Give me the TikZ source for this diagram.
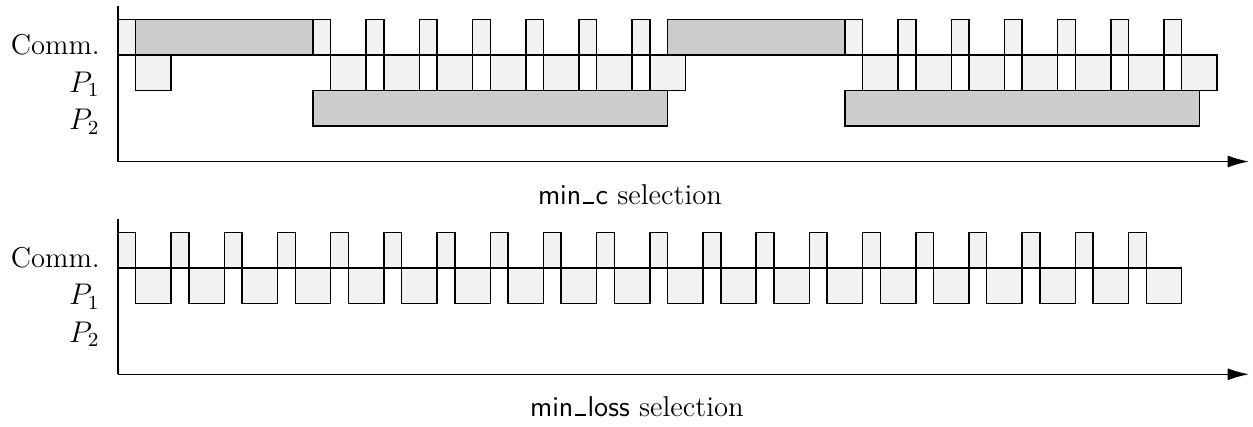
\documentclass[tikz,border=0pt]{standalone}
\usetikzlibrary{arrows.meta}
\begin{document}
\begin{tikzpicture}[x=0.25cm,y=0.25cm,
  font=\fontsize{11.5}{13.8}\selectfont,
  lightbox/.style={draw=black,fill=black!5,line width=0.6pt},
  darkbox/.style={draw=black,fill=black!20,line width=0.6pt},
  axisline/.style={draw=black,line width=0.6pt},
  rowlabel/.style={anchor=base east,inner sep=0pt},
  caption/.style={anchor=base,inner sep=0pt}]
\useasboundingbox (-6.655,-2.97) rectangle (64.02,21.11);
\newcommand{\us}{\kern0.06em\rule{0.38em}{0.8pt}\kern0.06em}
% ---------- top: min_c ----------
\begin{scope}[shift={(0,12)}]
  \coordinate (ta) at (0,0);
  \coordinate (tt) at (0,8.75);
  \coordinate (te) at (63.8,0);
  % P2 dark
  \foreach \a/\b in {11/31,41/61}
    \path[darkbox] (\a,2) rectangle (\b,4);
  % P1 light
  \path[lightbox] (1,4) rectangle (3,6);
  \foreach \a in {12,15,...,30}
    \path[lightbox] (\a,4) rectangle ({\a+2},6);
  \foreach \a in {42,45,...,60}
    \path[lightbox] (\a,4) rectangle ({\a+2},6);
  % Comm dark
  \foreach \a/\b in {1/11,31/41}
    \path[darkbox] (\a,6) rectangle (\b,8);
  % Comm light
  \foreach \a in {0,11,14,...,29}
    \path[lightbox] (\a,6) rectangle ({\a+1},8);
  \foreach \a in {41,44,...,59}
    \path[lightbox] (\a,6) rectangle ({\a+1},8);
  % axes
  \draw[axisline] (tt) -- (ta);
  \draw[axisline,-{Latex[length=8.6pt,width=4.8pt]}] (ta) -- (te);
  % labels
  \node[rowlabel] (tc) at (-1,6.05) {Comm.};
  \node[rowlabel] (tp1) at (-1,3.92) {$P_1$};
  \node[rowlabel] (tp2) at (-1,1.8) {$P_2$};
  \node[caption] (tcap) at (28.88,-2.42) {\textsf{min\us c} selection};
\end{scope}
% ---------- bottom: min_loss ----------
\begin{scope}
  \coordinate (ba) at (0,0);
  \coordinate (bt) at (0,8.75);
  \coordinate (be) at (63.8,0);
  \foreach \a in {1,4,...,58}
    \path[lightbox] (\a,4) rectangle ({\a+2},6);
  \foreach \a in {0,3,...,57}
    \path[lightbox] (\a,6) rectangle ({\a+1},8);
  \draw[axisline] (bt) -- (ba);
  \draw[axisline,-{Latex[length=8.6pt,width=4.8pt]}] (ba) -- (be);
  \node[rowlabel] (bc) at (-1,6.05) {Comm.};
  \node[rowlabel] (bp1) at (-1,3.92) {$P_1$};
  \node[rowlabel] (bp2) at (-1,1.8) {$P_2$};
  \node[caption] (bcap) at (29.27,-2.38) {\textsf{min\us loss} selection};
\end{scope}
\end{tikzpicture}
\end{document}
